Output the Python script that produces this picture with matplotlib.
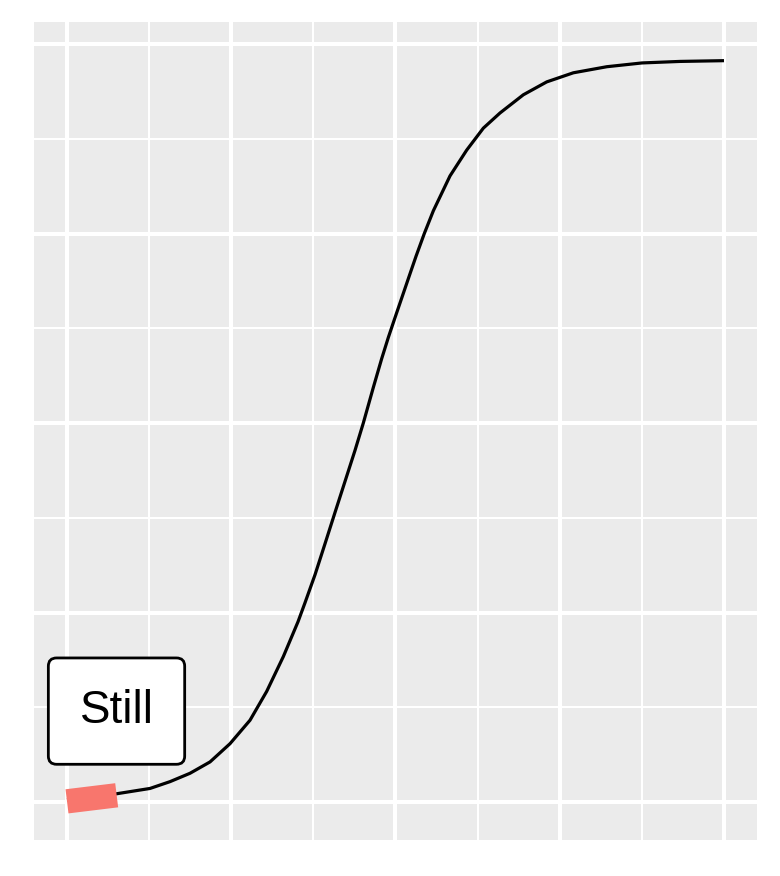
import numpy as np
import matplotlib.pyplot as plt
from matplotlib.ticker import MultipleLocator

# curve
x_vals = [0.000, 0.605, 1.011, 1.255, 1.498, 1.742, 1.985, 2.229, 2.432, 2.635,
          2.814, 2.899, 3.021, 3.143, 3.264, 3.386, 3.508, 3.609, 3.731, 3.833,
          3.914, 3.995, 4.178, 4.251, 4.352, 4.462, 4.665, 4.868, 5.071, 5.274,
          5.558, 5.843, 6.167, 6.574, 7.004, 7.467, 8.002]
y_vals = [0.003, 0.011, 0.018, 0.027, 0.038, 0.053, 0.077, 0.108, 0.146, 0.192,
          0.238, 0.263, 0.300, 0.341, 0.382, 0.423, 0.464, 0.500, 0.547, 0.585,
          0.613, 0.639, 0.697, 0.720, 0.750, 0.780, 0.826, 0.860, 0.889, 0.909,
          0.933, 0.950, 0.962, 0.970, 0.975, 0.977, 0.978]

# highlighted stretch at the start
hl_x = [0.000, 0.605]
hl_y = [0.001, 0.009]

label = 'Still'
label_x = 0.603
label_y = 0.120

fig = plt.figure(figsize=(7.8, 8.76), dpi=100)
ax = fig.add_axes([34 / 780, 36 / 876, 723 / 780, 818 / 876])
ax.set_facecolor('#EBEBEB')

ax.plot(x_vals, y_vals, color='black', lw=2.3, zorder=3,
        solid_capstyle='butt', solid_joinstyle='round')
ax.plot(hl_x, hl_y, color='#F8766D', lw=17.5, zorder=4, solid_capstyle='butt')

ax.text(label_x, label_y, label, fontsize=33, family=['Liberation Sans', 'DejaVu Sans'],
        ha='center', va='center', zorder=5,
        bbox=dict(boxstyle='round,pad=0.68,rounding_size=0.18', fc='white', ec='black', lw=2))

ax.set_xlim(-0.402, 8.404)
ax.set_ylim(-0.050, 1.029)
ax.xaxis.set_major_locator(MultipleLocator(2))
ax.xaxis.set_minor_locator(MultipleLocator(1))
ax.yaxis.set_major_locator(MultipleLocator(0.25))
ax.yaxis.set_minor_locator(MultipleLocator(0.125))
ax.grid(which='major', color='white', lw=2.9)
ax.grid(which='minor', color='white', lw=1.45)
ax.set_axisbelow(True)
ax.tick_params(which='both', length=0, labelbottom=False, labelleft=False)
for s in ax.spines.values():
    s.set_visible(False)

fig.savefig('out.png', dpi=100)
